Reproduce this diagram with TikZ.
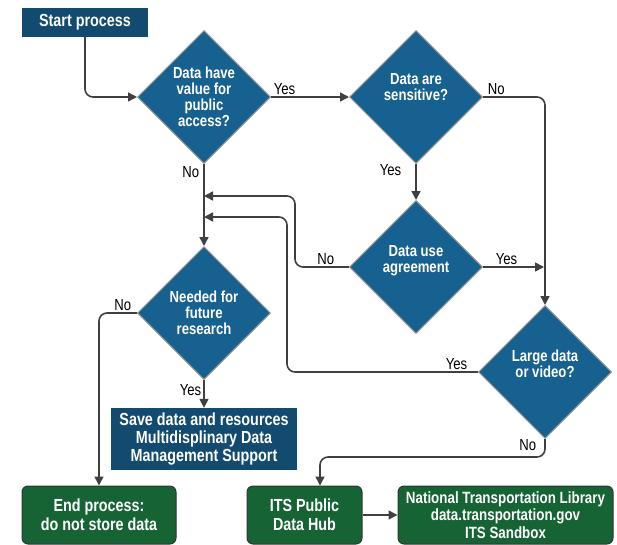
\documentclass[tikz,border=0pt]{standalone}
\usepackage{fontspec}
\setmainfont{Liberation Sans}
\newfontfamily\narrowfont[FakeStretch=0.82]{Liberation Sans}
\usetikzlibrary{shapes.geometric,arrows.meta}
\definecolor{startblue}{HTML}{134A6F}
\definecolor{qblue}{HTML}{176191}
\definecolor{endgreen}{HTML}{166434}
\definecolor{linegray}{HTML}{404040}

\begin{document}
\begin{tikzpicture}[x=1pt, y=-1pt,
  box/.style={fill=startblue, text=white, font=\narrowfont\bfseries\fontsize{17.5}{18}\selectfont, align=center, inner sep=0pt},
  question/.style={diamond, draw=gray!85, line width=1pt, fill=qblue, text=white, font=\narrowfont\bfseries\fontsize{16}{16}\selectfont, align=center, inner sep=0pt, minimum width=133pt, minimum height=133pt},
  final/.style={rounded corners=6pt, draw=black!80, line width=1pt, fill=endgreen, text=white, font=\narrowfont\bfseries\fontsize{17.5}{19}\selectfont, align=center, inner sep=0pt},
  flow/.style={draw=linegray, line width=1.6pt, rounded corners=8pt, -{Triangle[length=9pt,width=9pt]}},
  answer/.style={font=\narrowfont\fontsize{16}{16}\selectfont, text=black, inner sep=2pt}]
\useasboundingbox (0,0) rectangle (617,544);

% Start
\node[box, minimum width=126pt, minimum height=29pt] (start) at (85,22.5) {Start process};

% Domande
\node[question] (q1) at (204,97) {Data have\\value for\\public\\access?};
\node[question] (q2) at (416,97) {Data are\\sensitive?\\[4pt]\phantom{x}};
\node[question] (q3) at (416,267) {Data use\\agreement\\\phantom{x}};
\node[question] (q4) at (204,313) {Needed for\\future\\research};
\node[question] (q5) at (545,372) {Large data\\or video?\\\phantom{x}};

% Risultati
\node[box, minimum width=186pt, minimum height=62pt] (save) at (204,439) {Save data and resources\\Multidisplinary Data\\Management Support};
\node[final, minimum width=154pt, minimum height=58pt] (end) at (99,515) {End process:\\do not store data};
\node[final, minimum width=115pt, minimum height=58pt] (hub) at (304.5,515) {ITS Public\\Data Hub};
\node[final, minimum width=215pt, minimum height=58pt, font=\narrowfont\bfseries\fontsize{16.3}{17.5}\selectfont] (ntl) at (505.5,515) {National Transportation Library\\data.transportation.gov\\ITS Sandbox};

% Punti di ingresso
\coordinate (join1) at (204,196);
\coordinate (join2) at (204,217);

% Connessioni
\draw[flow] (start.south) |- (q1.west);
\draw[flow] (q1.east) node[answer, anchor=south west] {Yes} -- (q2.west);
\draw[flow] (q2.east) node[answer, anchor=south west, xshift=2pt] {No} -| (q5.north);
\draw[flow] (q2.south) node[answer, anchor=north east, xshift=-12pt, yshift=2pt] {Yes} -- (q3.north);
\draw[flow] (q3.west) node[answer, anchor=south east, xshift=-12pt] {No} -- ++(-54,0) |- (join1);
\draw[flow, shorten >=1pt] (q3.east) node[answer, anchor=south west, xshift=10pt] {Yes} -- (q5.north |- q3.east);
\draw[flow] (q1.south) node[answer, anchor=north east, xshift=-2pt] {No} -- (q4.north);
\draw[flow] (q5.west) node[answer, anchor=south east, xshift=-8pt] {Yes} -- ++(-191,0) |- (join2);
\draw[flow] (q4.west) node[answer, anchor=south east, xshift=-3pt] {No} -| (end.north);
\draw[flow] (q4.south) -- (save.north) node[answer, pos=0.35, left] {Yes};
\draw[flow] (q5.south) node[answer, anchor=north east, xshift=-6pt, yshift=2pt] {No} -- ++(0,18) -| ([xshift=15.5pt]hub.north);
\draw[flow] (hub) -- (ntl);

\end{tikzpicture}
\end{document}
